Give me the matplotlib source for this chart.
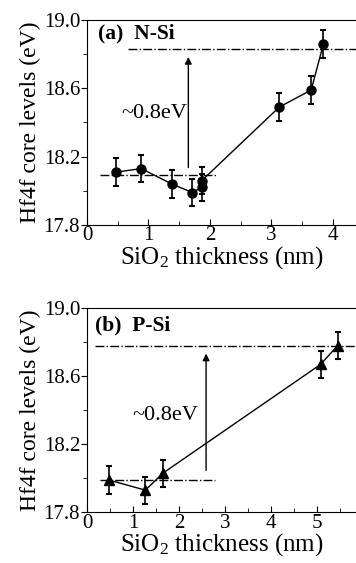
import matplotlib
matplotlib.use("Agg")
import matplotlib.pyplot as plt

plt.rcParams['font.family'] = ['Liberation Serif', 'DejaVu Serif']
plt.rcParams['mathtext.fontset'] = 'custom'
plt.rcParams['mathtext.rm'] = 'Liberation Serif'
plt.rcParams['mathtext.it'] = 'Liberation Serif:italic'
plt.rcParams['mathtext.bf'] = 'Liberation Serif:bold'

# Panel (a) N-Si
a_x = [0.48, 0.885, 1.38, 1.715, 1.87, 1.87, 3.13, 3.65, 3.85]
a_y = [18.11, 18.13, 18.04, 17.99, 18.02, 18.06, 18.49, 18.59, 18.86]
a_err = [0.08] * len(a_x)
a_low_level = 18.09
a_high_level = 18.83

# Panel (b) P-Si
b_x = [0.47, 1.27, 1.65, 5.08, 5.45]
b_y = [17.99, 17.93, 18.03, 18.67, 18.78]
b_err = [0.08] * len(b_x)
b_low_level = 17.99
b_high_level = 18.78

yticks = [17.8, 18.2, 18.6, 19.0]
ytick_labels = ['17.8', '18.2', '18.6', '19.0']

fig = plt.figure(figsize=(3.56, 5.63), dpi=100)
ax1 = fig.add_axes([0.2444, 0.6004, 0.7556, 0.3641])
ax2 = fig.add_axes([0.2444, 0.0901, 0.7556, 0.3623])

FS = 15


def style(ax, xmax, xticks):
    ax.set_ylim(17.8, 19.0)
    ax.set_xlim(0, xmax)
    ax.set_yticks(yticks)
    ax.set_yticklabels(ytick_labels)
    ax.set_yticks([18.0, 18.4, 18.8], minor=True)
    ax.set_xticks(xticks)
    ax.set_xticks([t + 0.5 for t in xticks if t + 0.5 < xmax], minor=True)
    ax.spines['right'].set_visible(False)
    ax.tick_params(axis='x', which='both', direction='in', labelsize=FS, pad=1)
    ax.tick_params(axis='y', which='both', direction='out', labelsize=FS, pad=1)
    ax.tick_params(which='major', length=4)
    ax.tick_params(which='minor', length=3)
    ax.set_ylabel('Hf4f core levels (eV)', fontsize=17, labelpad=2)
    ax.set_xlabel('SiO$_2$ thickness (nm)', fontsize=18, labelpad=-1)


style(ax1, 4.38, [0, 1, 2, 3, 4])
style(ax2, 5.85, [0, 1, 2, 3, 4, 5])

# Panel (a)
ax1.errorbar(a_x, a_y, yerr=a_err, fmt='-o', color='black', markersize=6.5,
             linewidth=1.0, capsize=2, capthick=1.5, elinewidth=1.2)
ax1.plot([0.21, 2.12], [a_low_level, a_low_level], color='black', linestyle='-.', linewidth=1.0)
ax1.plot([0.67, 4.38], [a_high_level, a_high_level], color='black', linestyle='-.', linewidth=1.0)
ax1.annotate('', xy=(1.65, 18.80), xytext=(1.65, 18.12),
             arrowprops=dict(arrowstyle='-|>', color='black', lw=1.0, mutation_scale=10))
ax1.text(0.56, 18.45, '~0.8eV', fontsize=16, va='center', ha='left')
ax1.text(0.18, 18.92, '(a)  N-Si', fontsize=15.5, fontweight='bold', va='center', ha='left')

# Panel (b)
ax2.errorbar(b_x, b_y, yerr=b_err, fmt='-^', color='black', markersize=7.5,
             linewidth=1.0, capsize=2, capthick=1.5, elinewidth=1.2)
ax2.plot([0.28, 2.78], [b_low_level, b_low_level], color='black', linestyle='-.', linewidth=1.0)
ax2.plot([0.17, 5.85], [b_high_level, b_high_level], color='black', linestyle='-.', linewidth=1.0)
ax2.annotate('', xy=(2.59, 18.75), xytext=(2.59, 18.03),
             arrowprops=dict(arrowstyle='-|>', color='black', lw=1.0, mutation_scale=10))
ax2.text(0.99, 18.37, '~0.8eV', fontsize=16, va='center', ha='left')
ax2.text(0.17, 18.90, '(b)  P-Si', fontsize=15.5, fontweight='bold', va='center', ha='left')

fig.savefig('out.png', dpi=100)
